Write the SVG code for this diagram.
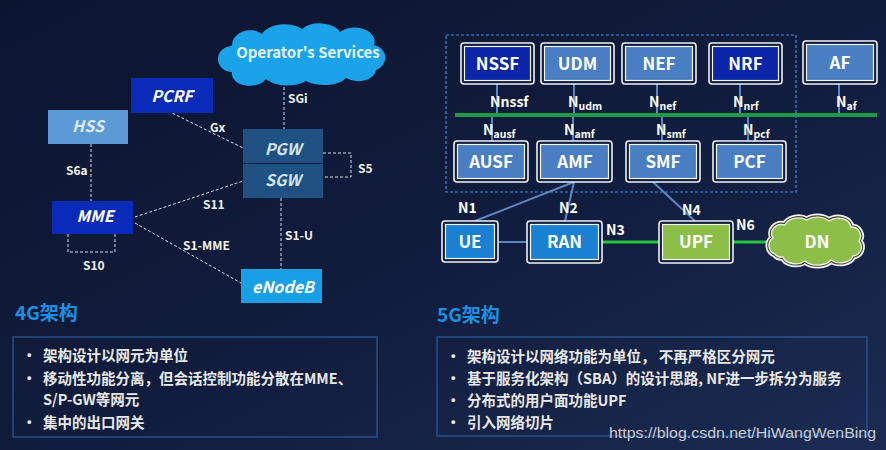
<svg xmlns="http://www.w3.org/2000/svg" width="886" height="450" viewBox="0 0 886 450">
<defs>
<linearGradient id="bg" x1="0" y1="0" x2="1" y2="1">
<stop offset="0" stop-color="#0c1530"/>
<stop offset="0.55" stop-color="#111d3e"/>
<stop offset="1" stop-color="#1b2b52"/>
</linearGradient>
<path id="opcloud" d="M232 72 a14 13 0 0 1 0 -26 a18 15 0 0 1 30 -12 a24 15 0 0 1 40 -5 a22 14 0 0 1 38 3 a20 14 0 0 1 34 13 a14 13 0 0 1 2 25 a18 12 0 0 1 -30 8 a24 12 0 0 1 -40 3 a24 12 0 0 1 -40 -2 a18 12 0 0 1 -34 -7 Z"/>
<path id="dncloud" d="M775 254 a9 9 0 0 1 -2 -16 a10 9 0 0 1 12 -13 a14 10 0 0 1 22 -5 a14 9 0 0 1 22 1 a13 10 0 0 1 22 6 a9 9 0 0 1 8 14 a9 9 0 0 1 -6 15 a13 9 0 0 1 -22 4 a15 9 0 0 1 -26 1 a13 9 0 0 1 -22 -4 a8 7 0 0 1 -8 -3 Z"/>
</defs>
<style>
text{font-family:"Noto Sans CJK SC","Noto Sans",sans-serif;font-weight:bold;}
.lbl{fill:#f2f2f2;font-size:12px;}
.nb{fill:#ffffff;font-size:16px;font-style:italic;text-anchor:middle;}
.dash{stroke:#d8dde6;stroke-width:1;stroke-dasharray:3 2;fill:none;}
.out{fill:#0e1a3a;stroke:#eef2f8;stroke-width:1.6;}
.in{stroke:#f4f7fb;stroke-width:1.2;}
.dk{fill:#0a25a8;}
.md{fill:#4a7ec2;}
.ue{fill:#1a80d2;}
.up{fill:#8dbe48;}
.bt{fill:#ffffff;font-size:17px;text-anchor:middle;}
.cn{stroke:#5a88c4;stroke-width:2;fill:none;}
.gr{stroke:#22c53a;stroke-width:3;fill:none;}
.nl{fill:#ffffff;font-size:14px;}
.sub{font-size:10.5px;}
.hd{fill:#1a90e2;font-size:19px;}
.bl{fill:#e8e8e8;font-size:14.5px;}
.ib{fill:none;stroke:#2b5d9c;stroke-width:1.2;}
</style>
<rect x="0" y="0" width="886" height="450" fill="url(#bg)"/>

<!-- 4G connectors -->
<g id="connectors-4g">
<line class="dash" x1="284" y1="82" x2="284" y2="129"/>
<line class="dash" x1="168" y1="111" x2="243" y2="148"/>
<polyline class="dash" points="323,153 351,153 351,177 323,177"/>
<line class="dash" x1="91" y1="144" x2="91" y2="201"/>
<line class="dash" x1="135" y1="217" x2="243" y2="181"/>
<line class="dash" x1="135" y1="223" x2="241" y2="283"/>
<line class="dash" x1="281" y1="198" x2="281" y2="269"/>
<polyline class="dash" points="68,234 68,252 115,252 115,234"/>
<text class="lbl" x="288" y="103">SGi</text>
<text class="lbl" x="210" y="132">Gx</text>
<text class="lbl" x="358" y="173">S5</text>
<text class="lbl" x="66" y="175">S6a</text>
<text class="lbl" x="203" y="209">S11</text>
<text class="lbl" x="183" y="250">S1-MME</text>
<text class="lbl" x="285" y="240">S1-U</text>
<text class="lbl" x="83" y="270">S10</text>
</g>

<!-- 4G nodes -->
<g id="operator-services">
<use href="#opcloud" fill="#1aa3e8"/>
<text x="308" y="58" fill="#e6f4ff" font-size="15" text-anchor="middle">Operator's Services</text>
</g>
<g id="pcrf"><rect x="131" y="78" width="82" height="35" fill="#0a2ab8"/><text class="nb" x="172" y="102">PCRF</text></g>
<g id="hss"><rect x="48" y="110" width="80" height="34" fill="#5b9ad6"/><text class="nb" x="88" y="132" style="fill:#dce9f7">HSS</text></g>
<g id="pgw"><rect x="243" y="129" width="80" height="34" fill="#1f5283"/><text class="nb" x="283" y="155" style="fill:#d6e2f0">PGW</text></g>
<g id="sgw"><rect x="243" y="164" width="80" height="34" fill="#1f5283"/><text class="nb" x="283" y="186" style="fill:#d6e2f0">SGW</text></g>
<g id="mme"><rect x="52" y="201" width="81" height="33" fill="#0a2ab8"/><text class="nb" x="95" y="222">MME</text></g>
<g id="enodeb"><rect x="241" y="269" width="81" height="34" fill="#17a0e6"/><text class="nb" x="283" y="293">eNodeB</text></g>

<!-- 5G connectors -->
<g id="connectors-5g">
<rect x="446" y="35" width="350" height="157" fill="none" stroke="#3a8ed6" stroke-width="1.2" stroke-dasharray="3 2"/>
<line class="cn" x1="497" y1="84" x2="497" y2="115"/>
<line class="cn" x1="574" y1="84" x2="574" y2="115"/>
<line class="cn" x1="657" y1="84" x2="657" y2="115"/>
<line class="cn" x1="740" y1="84" x2="740" y2="115"/>
<line class="cn" x1="839" y1="84" x2="839" y2="115"/>
<line class="cn" x1="492" y1="115" x2="492" y2="141"/>
<line class="cn" x1="573" y1="115" x2="573" y2="141"/>
<line class="cn" x1="662" y1="115" x2="662" y2="141"/>
<line class="cn" x1="748" y1="115" x2="748" y2="141"/>
<line x1="455" y1="115" x2="877" y2="115" stroke="#1d9c44" stroke-width="4"/>
<line class="cn" x1="574" y1="182" x2="475" y2="221"/>
<line class="cn" x1="574" y1="182" x2="565" y2="221"/>
<line class="cn" x1="653" y1="182" x2="695" y2="221"/>
<line class="cn" x1="498" y1="242" x2="527" y2="242"/>
<line class="gr" x1="602" y1="242" x2="659" y2="242"/>
<line class="gr" x1="733" y1="242" x2="768" y2="242"/>
<text class="nl" x="490" y="107">Nnssf</text>
<text class="nl" x="568" y="107">N<tspan class="sub" dy="3">udm</tspan></text>
<text class="nl" x="649" y="107">N<tspan class="sub" dy="3">nef</tspan></text>
<text class="nl" x="733" y="107">N<tspan class="sub" dy="3">nrf</tspan></text>
<text class="nl" x="836" y="107">N<tspan class="sub" dy="3">af</tspan></text>
<text class="nl" x="483" y="135">N<tspan class="sub" dy="3">ausf</tspan></text>
<text class="nl" x="564" y="135">N<tspan class="sub" dy="3">amf</tspan></text>
<text class="nl" x="656" y="135">N<tspan class="sub" dy="3">smf</tspan></text>
<text class="nl" x="743" y="135">N<tspan class="sub" dy="3">pcf</tspan></text>
<text class="nl" x="458" y="213">N1</text>
<text class="nl" x="559" y="213">N2</text>
<text class="nl" x="606" y="235">N3</text>
<text class="nl" x="682" y="215">N4</text>
<text class="nl" x="736" y="230">N6</text>
</g>

<!-- 5G nodes -->
<g id="nssf"><rect class="out" x="461" y="43" width="73" height="41" rx="3"/><rect class="in dk" x="464.5" y="46.5" width="66" height="34"/><text class="bt" x="497.5" y="70">NSSF</text></g>
<g id="udm"><rect class="out" x="541" y="43" width="73" height="41" rx="3"/><rect class="in md" x="544.5" y="46.5" width="66" height="34"/><text class="bt" x="577.5" y="70">UDM</text></g>
<g id="nef"><rect class="out" x="622" y="43" width="74" height="41" rx="3"/><rect class="in md" x="625.5" y="46.5" width="67" height="34"/><text class="bt" x="659" y="70">NEF</text></g>
<g id="nrf"><rect class="out" x="709" y="43" width="73" height="41" rx="3"/><rect class="in dk" x="712.5" y="46.5" width="66" height="34"/><text class="bt" x="745.5" y="70">NRF</text></g>
<g id="af"><rect class="out" x="803" y="41" width="74" height="43" rx="3"/><rect class="in md" x="806.5" y="44.5" width="67" height="36"/><text class="bt" x="840" y="69">AF</text></g>
<g id="ausf"><rect class="out" x="454" y="141" width="74" height="41" rx="3"/><rect class="in md" x="457.5" y="144.5" width="67" height="34"/><text class="bt" x="491" y="168">AUSF</text></g>
<g id="amf"><rect class="out" x="537" y="141" width="75" height="41" rx="3"/><rect class="in md" x="540.5" y="144.5" width="68" height="34"/><text class="bt" x="575" y="168">AMF</text></g>
<g id="smf"><rect class="out" x="626" y="141" width="74" height="41" rx="3"/><rect class="in md" x="629.5" y="144.5" width="67" height="34"/><text class="bt" x="663" y="168">SMF</text></g>
<g id="pcf"><rect class="out" x="713" y="141" width="73" height="41" rx="3"/><rect class="in md" x="716.5" y="144.5" width="66" height="34"/><text class="bt" x="749.5" y="168">PCF</text></g>
<g id="ue"><rect class="out" x="442" y="221" width="56" height="41" rx="3"/><rect class="in ue" x="445.5" y="224.5" width="49" height="34"/><text class="bt" x="470" y="248">UE</text></g>
<g id="ran"><rect class="out" x="527" y="221" width="75" height="42" rx="3"/><rect class="in ue" x="530.5" y="224.5" width="68" height="35"/><text class="bt" x="564.5" y="248">RAN</text></g>
<g id="upf"><rect class="out" x="659" y="221" width="74" height="42" rx="3"/><rect class="in up" x="662.5" y="224.5" width="67" height="35"/><text class="bt" x="696" y="248">UPF</text></g>
<g id="dn">
<use href="#dncloud" fill="none" stroke="#f2f2f2" stroke-width="7"/>
<use href="#dncloud" fill="none" stroke="#3b4a2c" stroke-width="3.5"/>
<use href="#dncloud" fill="#8dbe48" stroke="#f4f4f4" stroke-width="1.3"/>
<text class="bt" x="817" y="248">DN</text>
</g>

<!-- 4G text -->
<g id="info-4g">
<text class="hd" x="15" y="320">4G架构</text>
<rect class="ib" x="13" y="337" width="364" height="100"/>
<text class="bl" x="22" y="361">•</text>
<text class="bl" x="43" y="361">架构设计以网元为单位</text>
<text class="bl" x="22" y="384">•</text>
<text class="bl" x="43" y="384">移动性功能分离，但会话控制功能分散在MME、</text>
<text class="bl" x="43" y="405">S/P-GW等网元</text>
<text class="bl" x="22" y="428">•</text>
<text class="bl" x="43" y="428">集中的出口网关</text>
</g>

<!-- 5G text -->
<g id="info-5g">
<text class="hd" x="437" y="322">5G架构</text>
<rect class="ib" x="437" y="337" width="430" height="99"/>
<text class="bl" x="446" y="362">•</text>
<text class="bl" x="467" y="362">架构设计以网络功能为单位， 不再严格区分网元</text>
<text class="bl" x="446" y="384">•</text>
<text class="bl" x="467" y="384">基于服务化架构（SBA）的设计思路, NF进一步拆分为服务</text>
<text class="bl" x="446" y="406">•</text>
<text class="bl" x="467" y="406">分布式的用户面功能UPF</text>
<text class="bl" x="446" y="428">•</text>
<text class="bl" x="467" y="428">引入网络切片</text>
</g>
<text x="609" y="438" fill="#c9ccd2" font-size="15.5" textLength="267" lengthAdjust="spacingAndGlyphs" style="font-family:'Liberation Sans',Arial,sans-serif;font-weight:normal">https://blog.csdn.net/HiWangWenBing</text>
</svg>
